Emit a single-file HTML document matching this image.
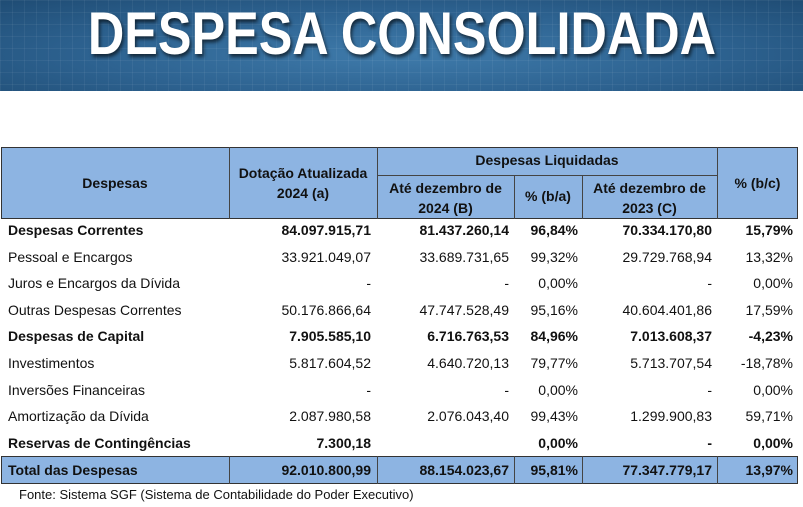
<!DOCTYPE html>
<html><head><meta charset="utf-8"><style>
*{margin:0;padding:0;box-sizing:border-box}
body{width:803px;height:507px;background:#fff;font-family:"Liberation Sans",sans-serif;position:relative;overflow:hidden;color:#111}
.banner{position:absolute;left:0;top:0;width:803px;height:91px;background:radial-gradient(ellipse at 50% 60%,#3f7bab 0%,#2d6290 55%,#1f4c74 100%);}
.banner:after{content:"";position:absolute;inset:0;background-image:linear-gradient(rgba(255,255,255,.05) 1px,transparent 1px),linear-gradient(90deg,rgba(255,255,255,.05) 1px,transparent 1px);background-size:12px 12px}
.title{position:absolute;left:0;top:-8px;width:803px;text-align:center;z-index:2}
.title span{display:inline-block;color:#fff;font-weight:bold;font-size:60px;line-height:84px;text-shadow:2px 3px 4px rgba(0,0,0,.6);white-space:nowrap;transform:scaleX(0.84);transform-origin:center}
.hdr{position:absolute;left:1px;top:147px;width:797px;height:72px;background:#8db4e2;border:1.5px solid #333}
.v{position:absolute;width:1px;background:#444}
.h{position:absolute;height:1px;background:#444}
.t{position:absolute;font-size:14px;white-space:nowrap;line-height:18px}
.c{text-align:center}
.b{font-weight:bold}
.r{text-align:right}
.tot{position:absolute;left:1px;top:456px;width:797px;height:28px;background:#8db4e2;border:1.5px solid #333}
</style></head><body>
<div class="banner"></div>
<div class="title"><span>DESPESA CONSOLIDADA</span></div>
<div class="hdr"></div>
<div class="v" style="left:229px;top:147px;height:72px"></div>
<div class="v" style="left:377px;top:147px;height:72px"></div>
<div class="v" style="left:514px;top:175px;height:44px"></div>
<div class="v" style="left:582px;top:175px;height:44px"></div>
<div class="v" style="left:717px;top:147px;height:72px"></div>
<div class="h" style="left:377px;top:175px;width:340px"></div>
<div class="t b c" style="left:1px;width:228px;top:174px">Despesas</div>
<div class="t b c" style="left:229px;width:148px;top:163px;line-height:20px">Dotação Atualizada<br>2024 (a)</div>
<div class="t b c" style="left:377px;width:340px;top:151px">Despesas Liquidadas</div>
<div class="t b c" style="left:377px;width:137px;top:178px;line-height:20px">Até dezembro de<br>2024 (B)</div>
<div class="t b c" style="left:514px;width:68px;top:187px">% (b/a)</div>
<div class="t b c" style="left:582px;width:135px;top:178px;line-height:20px">Até dezembro de<br>2023 (C)</div>
<div class="t b c" style="left:717px;width:81px;top:174px">% (b/c)</div>
<div class="tot"></div>
<div class="v" style="left:229px;top:456px;height:28px"></div>
<div class="v" style="left:377px;top:456px;height:28px"></div>
<div class="v" style="left:514px;top:456px;height:28px"></div>
<div class="v" style="left:582px;top:456px;height:28px"></div>
<div class="v" style="left:717px;top:456px;height:28px"></div>
<div id="rows"></div>
<div class="t" style="left:19px;top:486px;font-size:13px">Fonte: Sistema SGF (Sistema de Contabilidade do Poder Executivo)</div>
<script>
var d=[
[1,"Despesas Correntes","84.097.915,71","81.437.260,14","96,84%","70.334.170,80","15,79%"],
[0,"Pessoal e Encargos","33.921.049,07","33.689.731,65","99,32%","29.729.768,94","13,32%"],
[0,"Juros e Encargos da Dívida","-","-","0,00%","-","0,00%"],
[0,"Outras Despesas Correntes","50.176.866,64","47.747.528,49","95,16%","40.604.401,86","17,59%"],
[1,"Despesas de Capital","7.905.585,10","6.716.763,53","84,96%","7.013.608,37","-4,23%"],
[0,"Investimentos","5.817.604,52","4.640.720,13","79,77%","5.713.707,54","-18,78%"],
[0,"Inversões Financeiras","-","-","0,00%","-","0,00%"],
[0,"Amortização da Dívida","2.087.980,58","2.076.043,40","99,43%","1.299.900,83","59,71%"],
[1,"Reservas de Contingências","7.300,18","","0,00%","-","0,00%"],
[1,"Total das Despesas","92.010.800,99","88.154.023,67","95,81%","77.347.779,17","13,97%"]];
var rights=[371,509,578,712,793],h="";
d.forEach(function(r,i){var y=(i<9?221+i*26.6:461);var cls="t"+(r[0]?" b":"");
h+='<div class="'+cls+'" style="left:8px;top:'+y+'px">'+r[1]+'</div>';
for(var k=0;k<5;k++)h+='<div class="'+cls+' r" style="left:'+(rights[k]-160)+'px;width:160px;top:'+y+'px">'+r[k+2]+'</div>';});
document.getElementById("rows").innerHTML=h;
</script>
</body></html>
